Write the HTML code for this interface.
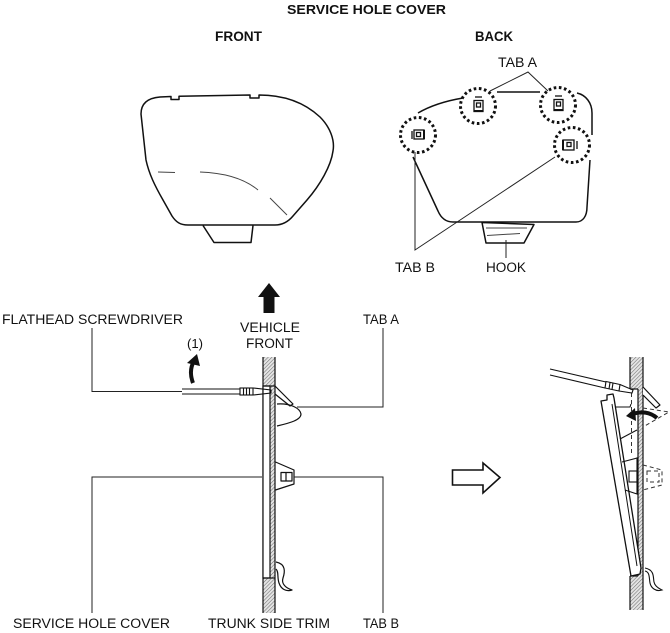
<!DOCTYPE html>
<html><head><meta charset="utf-8">
<style>
html,body{margin:0;padding:0;background:#fff;}
svg{display:block;}
text{font-family:"Liberation Sans",Arial,sans-serif;fill:#111;}
.b{font-weight:bold;}
</style></head>
<body>
<svg width="670" height="633" viewBox="0 0 670 633" xmlns="http://www.w3.org/2000/svg">
<defs>
<pattern id="h" width="2.6" height="2.6" patternUnits="userSpaceOnUse" patternTransform="rotate(45)">
<rect width="2.6" height="2.6" fill="#e4e4e4"/>
<line x1="0" y1="0" x2="0" y2="2.6" stroke="#666" stroke-width="1"/>
</pattern>
</defs>

<!-- Titles -->
<text class="b" x="287" y="14" font-size="13" textLength="159" lengthAdjust="spacingAndGlyphs">SERVICE HOLE COVER</text>
<text class="b" x="215" y="41" font-size="13.5" textLength="47" lengthAdjust="spacingAndGlyphs">FRONT</text>
<text class="b" x="475" y="41" font-size="13.5" textLength="38" lengthAdjust="spacingAndGlyphs">BACK</text>

<!-- FRONT cover -->
<g fill="none" stroke="#111" stroke-width="1.5" stroke-linejoin="round">
<path d="M141,114 C141,103 148,98 160,97 L171,96.5 L171,99.5 L179,99.5 L179,96.3 L250,95 L250,98 L259,98 L259,95 C285,95 305,103 320,117 C330,127 335,140 333,151 C331,166 320,185 307,200 L293,216 C288,222 282,225 275,225 L188,225 C180,225 176,222 172,216 L163,200 C155,186 149,174 146,160 Z"/>
<path d="M203,225.5 L214,242.5 L251,242.5 L253,225.5"/>
</g>
<g fill="none" stroke="#444" stroke-width="1">
<path d="M158,172 L175,172.5"/>
<path d="M200,172 C228,173 246,180 258,190"/>
<path d="M270,198 L287,215"/>
</g>

<!-- BACK cover -->
<g fill="none" stroke="#111" stroke-width="1.5" stroke-linejoin="round">
<path d="M413,157 L438,211 C441,218 446,222 453,222 L576,222 C583,222 587,216 587,207 L590,160 M592,135 L592,113 C592,103 586,95 577,93 M540,92 L497,92 M463,98 C445,101 430,106 418,113"/>
<path d="M482,222.5 L534,224.5 L524,243 L486,243 Z"/>
</g>
<g fill="none" stroke="#444" stroke-width="1">
<path d="M486,228 L527,228"/>
<path d="M487,235.5 L520,233.5"/>
</g>
<!-- dotted circles -->
<g fill="#fff" stroke="#111" stroke-width="3" stroke-dasharray="2.6 2.6">
<circle cx="478" cy="106" r="17.5"/>
<circle cx="558" cy="105" r="17.5"/>
<circle cx="418" cy="135" r="17.5"/>
<circle cx="572" cy="145" r="17.5"/>
</g>
<!-- tab glyphs -->
<g fill="none" stroke="#111" stroke-width="1.3">
<line x1="475" y1="97" x2="482" y2="97"/>
<rect x="474" y="100.5" width="9" height="11"/>
<rect x="476.5" y="103" width="4" height="4"/>
<line x1="474" y1="111" x2="483" y2="111" stroke-width="2"/>
<line x1="555" y1="96" x2="562" y2="96"/>
<rect x="554" y="99.5" width="9" height="11"/>
<rect x="556.5" y="102" width="4" height="4"/>
<line x1="554" y1="110" x2="563" y2="110" stroke-width="2"/>
<line x1="412" y1="131" x2="412" y2="139"/>
<rect x="414" y="130" width="10" height="9"/>
<rect x="416.5" y="132.5" width="4" height="4"/>
<line x1="424" y1="130" x2="424" y2="139" stroke-width="2"/>
<line x1="577" y1="141" x2="577" y2="149"/>
<rect x="563" y="140" width="11" height="10"/>
<rect x="567" y="142.5" width="4" height="4"/>
<line x1="563" y1="140" x2="563" y2="150" stroke-width="2"/>
</g>
<!-- back labels & leaders -->
<text x="498" y="67" font-size="13.5" textLength="39" lengthAdjust="spacingAndGlyphs">TAB A</text>
<text x="395" y="272" font-size="13.5" textLength="40" lengthAdjust="spacingAndGlyphs">TAB B</text>
<text x="486" y="272" font-size="13.5" textLength="40" lengthAdjust="spacingAndGlyphs">HOOK</text>
<g fill="none" stroke="#222" stroke-width="1">
<path d="M490,91 L528,72 L548,91"/>
<path d="M415,152 L415,250 L555,157"/>
<path d="M506,240 L506,258"/>
</g>

<!-- ===== LEFT SECTION ===== -->
<text x="2" y="324" font-size="13.5" textLength="181" lengthAdjust="spacingAndGlyphs">FLATHEAD SCREWDRIVER</text>
<text x="187" y="348" font-size="13" textLength="16" lengthAdjust="spacingAndGlyphs">(1)</text>
<text x="240" y="332" font-size="13.5" textLength="60" lengthAdjust="spacingAndGlyphs">VEHICLE</text>
<text x="246" y="348" font-size="13.5" textLength="47" lengthAdjust="spacingAndGlyphs">FRONT</text>
<text x="363" y="324" font-size="13.5" textLength="36" lengthAdjust="spacingAndGlyphs">TAB A</text>
<text x="13" y="628" font-size="13.5" textLength="157" lengthAdjust="spacingAndGlyphs">SERVICE HOLE COVER</text>
<text x="208" y="628" font-size="13.5" textLength="122" lengthAdjust="spacingAndGlyphs">TRUNK SIDE TRIM</text>
<text x="363" y="628" font-size="13.5" textLength="36" lengthAdjust="spacingAndGlyphs">TAB B</text>

<!-- vehicle front arrow -->
<polygon points="269,283 280,297 274.5,297 274.5,313 263.5,313 263.5,297 258,297" fill="#111"/>

<!-- wall -->
<rect x="263" y="357" width="12" height="256" fill="url(#h)"/>
<g stroke="#111" stroke-width="1.2" fill="none">
<line x1="263" y1="357" x2="263" y2="613"/>
<line x1="275" y1="357" x2="275" y2="613"/>
</g>
<!-- cover in place -->
<rect x="263" y="386" width="7" height="192" fill="#fff" stroke="#111" stroke-width="1.2"/>
<line x1="263" y1="386" x2="275" y2="386" stroke="#111" stroke-width="1.2"/>
<line x1="263" y1="578" x2="275" y2="578" stroke="#111" stroke-width="1.2"/>

<!-- tab A left -->
<g fill="none" stroke="#111" stroke-width="1.2" stroke-linejoin="round">
<path d="M275,386 L293,404 L290,406 L275,394"/>
<path d="M277,404 C290,403 300,408 301,414 C301,420 290,423 277,426"/>
<!-- tab B left -->
<path d="M275.5,462 L294,470 L294,484 L275.5,490"/>
<rect x="281" y="472.5" width="11" height="8.5"/>
<line x1="286" y1="472.5" x2="286" y2="481"/>
<!-- wavy -->
<path d="M276,562 C286,564 285,572 283,578 C281,584 286,588 292,590 C286,592 281,589 279,583 C277,577 279,572 276,569"/>
</g>

<!-- screwdriver left -->
<g fill="none" stroke="#111" stroke-width="1.1">
<line x1="182" y1="389" x2="240" y2="389"/>
<line x1="182" y1="394" x2="240" y2="394"/>
<rect x="240" y="388" width="13" height="7" fill="#fff"/>
<line x1="243.5" y1="388" x2="243.5" y2="395"/>
<line x1="246.5" y1="388" x2="246.5" y2="395"/>
<line x1="249.5" y1="388" x2="249.5" y2="395"/>
<path d="M253,388 L271,390 L271,393 L253,395"/>
</g>
<!-- curved arrow (1) -->
<path d="M193,383 C190,375 190,368 194,361" fill="none" stroke="#111" stroke-width="4"/>
<polygon points="187,363 197,354 200,366" fill="#111"/>

<!-- leaders left -->
<g fill="none" stroke="#222" stroke-width="1">
<path d="M92,328 L92,391.5 L182,391.5"/>
<path d="M297,407 L383,407 L383,328"/>
<path d="M92,613 L92,477 L262,477"/>
<path d="M294,477 L383,477 L383,613"/>
</g>

<!-- big hollow arrow -->
<polygon points="452.5,470 483,470 483,463 500,477.5 483,493 483,485 452.5,485" fill="#fff" stroke="#111" stroke-width="1.6" stroke-linejoin="miter"/>

<!-- ===== RIGHT SECTION ===== -->
<rect x="630" y="357" width="13" height="253" fill="url(#h)"/>
<rect x="630" y="389" width="8" height="187" fill="#fff"/>
<g stroke="#111" stroke-width="1.2" fill="none">
<line x1="630" y1="357" x2="630" y2="389"/>
<line x1="630" y1="576" x2="630" y2="610"/>
<line x1="643" y1="357" x2="643" y2="610"/>
<line x1="638" y1="389" x2="638" y2="576"/>
<line x1="630" y1="389" x2="638" y2="389"/>
<line x1="630" y1="576" x2="638" y2="576"/>
</g>
<!-- dashed ghosts -->
<g fill="none" stroke="#333" stroke-width="1" stroke-dasharray="4 3">
<line x1="631.5" y1="393" x2="631.5" y2="456"/>
<path d="M643,408 L669,412 L643,427"/>
<path d="M643,465 L662,470 L662,485 L643,490"/>
<rect x="647" y="471" width="12" height="11"/>
</g>
<!-- tab A on wall -->
<path d="M643,387 L660,405 L656,408 L643,395" fill="#fff" stroke="#111" stroke-width="1.2" stroke-linejoin="round"/>
<!-- tilted cover -->
<path d="M601,401 L607,400 L607,395 L613,394 L614,398 L641,568 L640,574 L631,576 Z" fill="#fff" stroke="#111" stroke-width="1.3" stroke-linejoin="round"/>
<path d="M612,404 L637,566" fill="none" stroke="#111" stroke-width="1"/>
<g fill="none" stroke="#111" stroke-width="1.1">
<path d="M616,407 L630,407 L631,404"/>
<path d="M620,439 L637,430"/>
<path d="M622,462 L637,458 L637,494 L625,490"/>
<rect x="629" y="471" width="8" height="11"/>
<path d="M645,568 C655,570 653,578 654,582 C655,587 660,589 662,590 C656,592 651,588 650,583 C649,578 650,572 645,571"/>
</g>
<!-- screwdriver right -->
<g fill="none" stroke="#111" stroke-width="1.1">
<line x1="550" y1="369" x2="606" y2="382"/>
<line x1="550" y1="375" x2="605" y2="388"/>
<path d="M606,381.5 L620,384.5 L619,391 L605,388 Z" fill="#fff"/>
<line x1="610" y1="382.5" x2="609" y2="389"/>
<line x1="613" y1="383" x2="612" y2="389.5"/>
<path d="M620,384.5 L633,390 L632,393 L619,391"/>
</g>
<!-- curved arrow right -->
<path d="M657,418 C650,412 641,411 633,414" fill="none" stroke="#111" stroke-width="4"/>
<polygon points="626,416 635,408 636,421" fill="#111"/>
</svg>
</body></html>
